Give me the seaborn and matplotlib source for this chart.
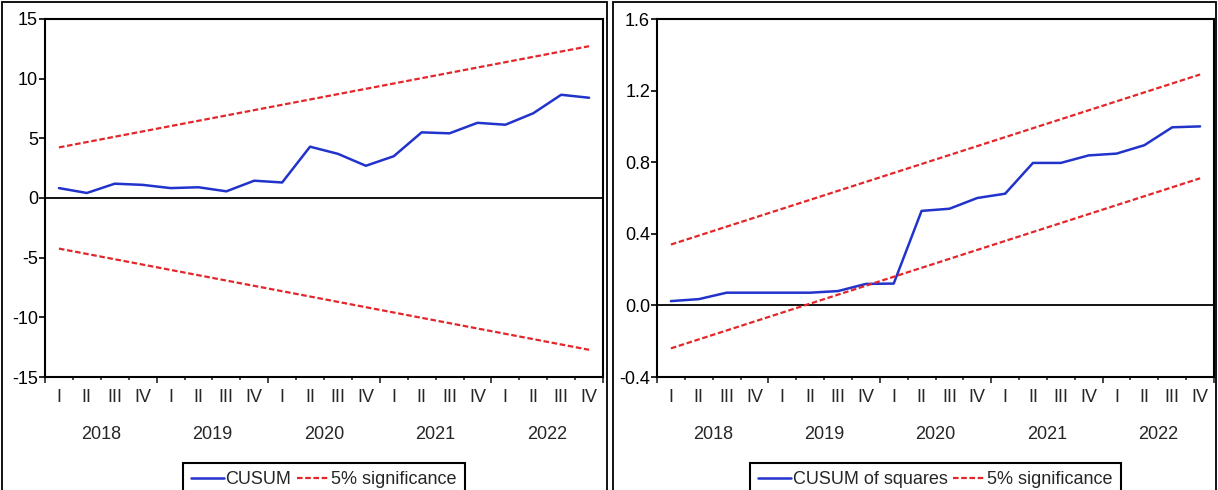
import matplotlib
matplotlib.use("Agg")
import numpy as np
import pandas as pd
import matplotlib.pyplot as plt
import seaborn as sns
from matplotlib.lines import Line2D
from matplotlib.patches import Rectangle

# quarterly sample 2018Q1 - 2022Q4
years = ["2018", "2019", "2020", "2021", "2022"]
quarter_names = ["I", "II", "III", "IV"]

# CUSUM test
cusum = [0.83, 0.42, 1.2, 1.1, 0.83, 0.9, 0.56, 1.45, 1.3, 4.3,
         3.7, 2.7, 3.5, 5.5, 5.42, 6.3, 6.14, 7.1, 8.65, 8.4]
cusum_upper = [4.24, 12.72]
cusum_lower = [-4.24, -12.72]

# CUSUM of squares test
cusum_sq = [0.024, 0.035, 0.071, 0.071, 0.071, 0.071, 0.080, 0.12, 0.122, 0.528,
            0.54, 0.60, 0.624, 0.796, 0.796, 0.838, 0.848, 0.895, 0.995, 1.0]
sq_upper = [0.34, 1.29]
sq_lower = [-0.24, 0.71]

BLUE = "#2233cc"
RED = "#e3262a"
DASH = (0, (2.5, 1.2))
FS = 13

sns.set_theme(style="white")
plt.rcParams["font.family"] = ["Liberation Sans", "DejaVu Sans"]
plt.rcParams["axes.unicode_minus"] = False

n = len(years) * len(quarter_names)
t = np.arange(n) + 0.5          # centre of each quarter
ends = [t[0], t[-1]]

fig = plt.figure(figsize=(12.18, 4.9), dpi=100)
ax1 = fig.add_axes([45 / 1218, 1 - 377 / 490, 558 / 1218, 358 / 490])
ax2 = fig.add_axes([657 / 1218, 1 - 377 / 490, 557 / 1218, 358 / 490])

# panel frames
for x0, x1 in [(2, 607), (613, 1216)]:
    fig.add_artist(Rectangle((x0 / 1218, -0.1), (x1 - x0) / 1218, 1.1 - 2 / 490,
                             transform=fig.transFigure, fill=False,
                             edgecolor="black", linewidth=1.3))


def draw_panel(ax, values, upper, lower, ylim, yticks, fmt, label):
    df = pd.DataFrame({"t": t, "value": values})
    sns.lineplot(data=df, x="t", y="value", ax=ax, color=BLUE, linewidth=1.8)
    sns.lineplot(x=ends, y=upper, ax=ax, color=RED, linewidth=1.6, linestyle=DASH)
    sns.lineplot(x=ends, y=lower, ax=ax, color=RED, linewidth=1.6, linestyle=DASH)
    ax.axhline(0, color="black", linewidth=1.3, zorder=1)

    ax.set_xlim(0, n)
    ax.set_ylim(*ylim)
    ax.set_yticks(yticks)
    ax.set_yticklabels([fmt.format(v) for v in yticks])
    ax.set_xticks(np.arange(0, n + 1, 4))
    ax.set_xticks(np.arange(0, n + 1, 1), minor=True)
    ax.set_xlabel("")
    ax.set_ylabel("")
    ax.tick_params(axis="y", direction="out", length=4, width=1.2,
                   labelsize=FS, pad=1, colors="black", left=True)
    ax.tick_params(axis="x", which="major", direction="out", length=4.5,
                   width=1.2, labelbottom=False, bottom=True)
    ax.tick_params(axis="x", which="minor", direction="out", length=2.5,
                   width=1.2, bottom=True)
    for s in ax.spines.values():
        s.set_color("black")
        s.set_linewidth(1.5)

    # quarter and year labels
    for i in range(n):
        ax.annotate(quarter_names[i % 4], xy=(t[i], 0), xycoords=("data", "axes fraction"),
                    xytext=(0, -15), textcoords="offset points",
                    ha="center", va="center", fontsize=FS)
    for j, yr in enumerate(years):
        ax.annotate(yr, xy=(4 * j + 2, 0), xycoords=("data", "axes fraction"),
                    xytext=(0, -41.5), textcoords="offset points",
                    ha="center", va="center", fontsize=FS)

    handles = [Line2D([], [], color=BLUE, linewidth=1.8),
               Line2D([], [], color=RED, linewidth=1.6, linestyle=DASH)]
    leg = ax.legend(handles, [label, "5% significance"], loc="upper center",
                    bbox_to_anchor=(0.5, -0.24), ncol=2, frameon=True,
                    fancybox=False, edgecolor="black", framealpha=1,
                    handlelength=1.8, handletextpad=0.1, columnspacing=0.3,
                    borderpad=0.45, borderaxespad=0, fontsize=FS)
    leg.get_frame().set_linewidth(1.5)


draw_panel(ax1, cusum, cusum_upper, cusum_lower, (-15, 15),
           [15, 10, 5, 0, -5, -10, -15], "{:g}", "CUSUM")
draw_panel(ax2, cusum_sq, sq_upper, sq_lower, (-0.4, 1.6),
           [1.6, 1.2, 0.8, 0.4, 0.0, -0.4], "{:.1f}", "CUSUM of squares")

fig.savefig("out.png", dpi=100)
